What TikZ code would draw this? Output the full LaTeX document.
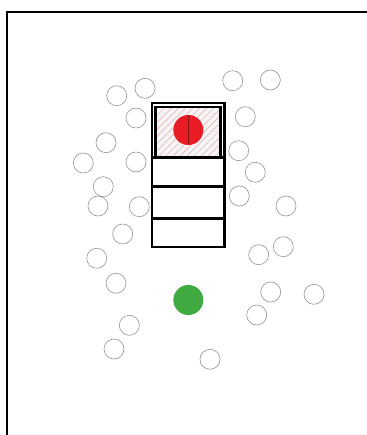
\documentclass[tikz,border=0pt]{standalone}
\usepackage{tikz}
\usetikzlibrary{patterns.meta}
\definecolor{dotred}{RGB}{232,28,36}
\definecolor{dotgreen}{RGB}{64,170,64}
\definecolor{hatchpink}{RGB}{230,170,170}

\begin{document}
\begin{tikzpicture}[x=1pt,y=-1pt]
\useasboundingbox (0,0) rectangle (366,435);
% frame
\draw[line width=1.6pt] (7,440) -- (7,12) -- (370,12);
% cell column
\coordinate (A) at (151.7,103.3);
\coordinate (B) at (224.3,246.7);
\fill[gray!8] (155.5,107.3) rectangle (220.5,156.7);
\fill[pattern={Lines[angle=45,distance=5pt,line width=0.5pt]}, pattern color=hatchpink] (155.5,107.3) rectangle (220.5,156.7);
\draw[line width=2.4pt] (A) rectangle (B);
\draw[line width=2.2pt] (155.5,107.3) rectangle (220.5,156.7);
\draw[line width=2.4pt] (151.7,157.5) -- (224.3,157.5);
\draw[line width=2.4pt] (151.7,186.7) -- (224.3,186.7);
\draw[line width=2.4pt] (151.7,218.3) -- (224.3,218.3);
% source and target
\fill[dotred] (188.3,130) circle (15);
\draw[dotred!60!black, line width=0.8pt] (188.3,115.5) -- (188.3,144.5);
\fill[dotgreen] (188.3,300) circle (15);
% obstacles
\foreach \x/\y in {116.7/95.7, 145/88.3, 232.7/80.7, 270.3/80,
  136/118, 245.3/116.7, 106/142.7, 83.3/163, 136/162, 238.7/150.7,
  255.3/172.3, 103.3/186.7, 98/206, 139.3/206.7, 239.3/196, 286/206,
  122.7/234, 96.7/258.3, 258.7/254.7, 283.3/246.7, 116/283.3,
  270.7/292, 314/294.3, 256.7/315, 129.3/325.3, 114/349, 210/359.3}
  \draw[gray!85, line width=0.6pt] (\x,\y) circle (10);
\end{tikzpicture}
\end{document}
